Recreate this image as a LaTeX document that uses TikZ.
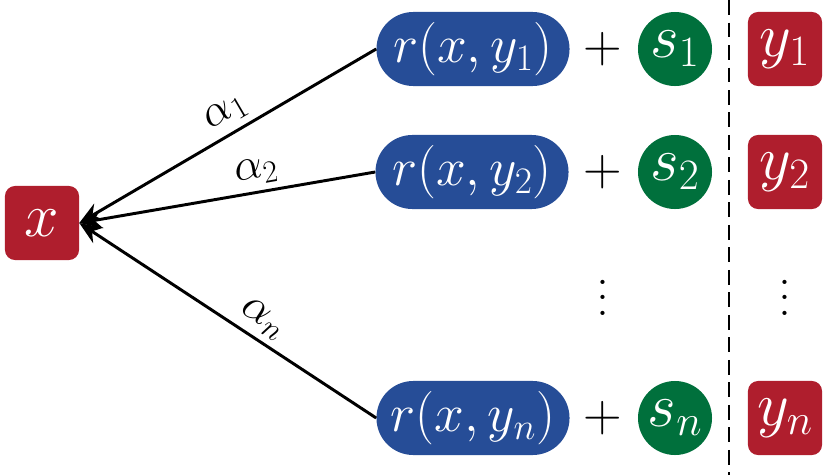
\RequirePackage{fix-cm}
\documentclass[tikz,border=0pt]{standalone}
\usetikzlibrary{arrows.meta,positioning}
\definecolor{boxred}{RGB}{175,30,45}
\definecolor{boxblue}{RGB}{38,77,151}
\definecolor{boxgreen}{RGB}{0,112,60}
\tikzset{>={Stealth[length=16pt,width=13pt]},every node/.style={font=\fontsize{38}{44}\selectfont},
redbox/.style={fill=boxred,text=white,rounded corners=.25cm,minimum size=1.85cm,inner sep=0pt,font=\fontsize{44}{50}\selectfont},
pill/.style={fill=boxblue,text=white,rounded corners=.92cm,minimum width=4.825cm,minimum height=1.85cm,inner sep=0pt},
sdot/.style={circle,fill=boxgreen,text=white,minimum size=1.85cm,inner sep=0pt,font=\fontsize{44}{50}\selectfont},
dots/.style={font=\normalsize,scale=2.8},
wt/.style={font=\fontsize{32}{36}\selectfont,sloped,above=1pt},
edge/.style={line width=2.1pt,->}}
\begin{document}
\begin{tikzpicture}[x=.025cm,y=-.025cm]
\useasboundingbox (0,0) rectangle (830,475);
\node[redbox] (x) at (42,223){$x$};
% rewards, scores and samples
\node[pill] (r1) at (473,49){$r(x,y_1)$};\node (p1) at (603,49){$+$};\node[sdot] (s1) at (675,49){$s_1$};\node[redbox] (y1) at (785,49){$y_1$};
\node[pill] (r2) at (472,172){$r(x,y_2)$};\node (p2) at (603,172){$+$};\node[sdot] (s2) at (675,172){$s_2$};\node[redbox] (y2) at (785,172){$y_2$};
\node[pill] (rn) at (473,418){$r(x,y_n)$};\node (pn) at (603,418){$+$};\node[sdot] (sn) at (675,418){$s_n$};\node[redbox] (yn) at (785,418){$y_n$};
\node[dots] (d1) at (603,286){$\vdots$};\node[dots] (d2) at (785,286){$\vdots$};
\coordinate (top) at (729,0);\coordinate (bot) at (729,475);
\draw[line width=2.1pt,dash pattern=on 10.5pt off 5.5pt] (top)--(bot);
\draw[edge] (r1.west)--(x.east) node[wt,pos=.47]{$\alpha_1$};
\draw[edge] (r2.west)--(x.east) node[wt,pos=.39]{$\alpha_2$};
\draw[edge] (rn.west)--(x.east) node[wt,pos=.42]{$\alpha_n$};
\end{tikzpicture}
\end{document}
